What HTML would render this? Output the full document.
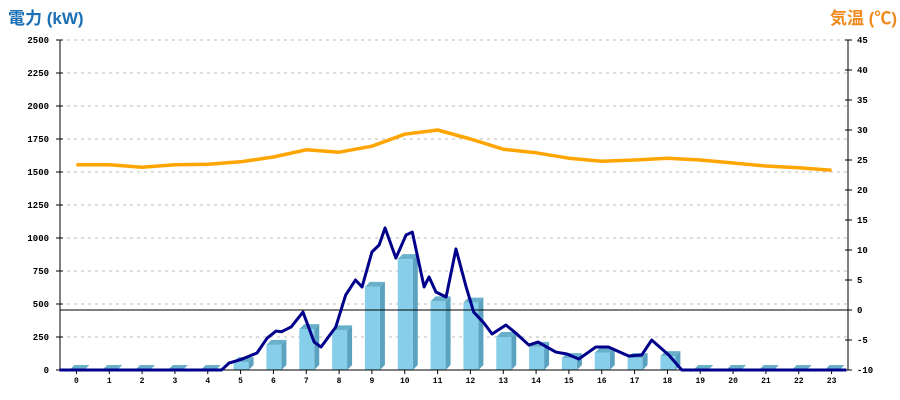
<!DOCTYPE html>
<html><head><meta charset="utf-8"><style>
body{margin:0;background:#fff;width:900px;height:400px;overflow:hidden}
svg{display:block}
</style></head><body>
<svg id="chart" width="900" height="400" xmlns="http://www.w3.org/2000/svg">
<text x="8" y="24" font-family="Liberation Sans, Noto Sans CJK JP, sans-serif" font-weight="bold" font-size="17" fill="#1a6fb5">電力 (kW)</text>
<text x="897" y="24" text-anchor="end" font-family="Liberation Sans, Noto Sans CJK JP, sans-serif" font-weight="bold" font-size="17" fill="#f08a1c">気温 (℃)</text>
</svg>
<script>
const categories=[0,1,2,3,4,5,6,7,8,9,10,11,12,13,14,15,16,17,18,19,20,21,22,23];
const hourlyPower=[0,0,0,0,0,60,190,310,300,630,840,520,510,250,175,90,130,90,105,0,0,0,0,0];
const temperature=[24.2,24.2,23.8,24.2,24.3,24.7,25.5,26.7,26.3,27.3,29.3,30,28.5,26.8,26.2,25.3,24.8,25,25.3,25,24.5,24,23.7,23.3];
const powerTimes=[-0.52,4.42,4.65,5.05,5.5,5.81,6.08,6.25,6.54,6.9,7.24,7.45,7.9,8.2,8.5,8.7,9.0,9.22,9.4,9.73,10.04,10.23,10.59,10.74,10.95,11.26,11.56,11.87,12.1,12.41,12.66,13.08,13.38,13.78,14.06,14.6,14.94,15.3,15.82,16.2,16.82,17.22,17.52,18.04,18.44,23.45];
const powerValues=[0,0,53,83,129,242,295,290,326,439,212,174,326,568,682,629,894,947,1076,848,1023,1045,629,705,591,553,917,629,439,356,273,341,280,189,212,136,121,83,174,174,106,114,227,114,0,0];
const leftTicks=[0,250,500,750,1000,1250,1500,1750,2000,2250,2500];
const rightTicks=[-10,-5,0,5,10,15,20,25,30,35,40,45];

const svg=document.getElementById('chart');
const NS='http://www.w3.org/2000/svg';
const X0=60,X1=848,Y0=370,Y1=40;
const bw=(X1-X0)/24;
const xh=h=>X0+bw*(h+0.5);
const yL=v=>Y0-(v/2500)*(Y0-Y1);
const yR=t=>Y0-((t+10)/55)*(Y0-Y1);
function mk(tag,attrs){const e=document.createElementNS(NS,tag);for(const k in attrs)e.setAttribute(k,attrs[k]);svg.appendChild(e);return e;}
const font='Liberation Mono, monospace';

leftTicks.forEach(v=>{
  const y=yL(v);
  if(v>0){const g=mk('line',{x1:X0,x2:X1,y1:y,y2:y,stroke:'#bbb','stroke-dasharray':'3,4'});
  
  }
  const t=mk('line',{x1:X0-4,x2:X0+3,y1:y,y2:y,stroke:'#000'});
  
  
  const l=mk('text',{x:X0-11,y:y+3,'text-anchor':'end','font-family':font,'font-size':9,'font-weight':'bold',fill:'#000'});
  l.textContent=v;
  
  
});
rightTicks.forEach(v=>{
  const y=yR(v);
  const t=mk('line',{x1:X1-3,x2:X1+4,y1:y,y2:y,stroke:'#000'});
  
  
  const l=mk('text',{x:X1+9,y:y+3,'font-family':font,'font-size':9,'font-weight':'bold',fill:'#000'});
  l.textContent=v;
  
  
});
categories.forEach((c,i)=>{
  const x=xh(i);
  const t=mk('line',{x1:x,x2:x,y1:Y0,y2:Y0+4,stroke:'#000'});
  
  
  const l=mk('text',{x:x,y:Y0+13,'text-anchor':'middle','font-family':font,'font-size':8,'font-weight':'bold',fill:'#000'});
  l.textContent=c;
  
  
});
// bars
hourlyPower.forEach((v,i)=>{
  const cx=xh(i),x=cx-7,w=15,d=5,top=yL(v);
  const g=document.createElementNS(NS,'g');svg.appendChild(g);
  
  
  const side=document.createElementNS(NS,'polygon');
  side.setAttribute('points',`${x+w},${Y0} ${x+w},${top} ${x+w+d},${top-d} ${x+w+d},${Y0-d}`);
  side.setAttribute('fill','#5aa2bf');g.appendChild(side);
  const tp=document.createElementNS(NS,'polygon');
  tp.setAttribute('points',`${x},${top} ${x+d},${top-d} ${x+w+d},${top-d} ${x+w},${top}`);
  tp.setAttribute('fill','#69b0ca');g.appendChild(tp);
  const fr=document.createElementNS(NS,'rect');
  fr.setAttribute('x',x);fr.setAttribute('y',top);fr.setAttribute('width',w);fr.setAttribute('height',Y0-top);
  fr.setAttribute('fill','#87ceea');g.appendChild(fr);
});
// axes
const zl=mk('line',{x1:X0,x2:X1,y1:yR(0),y2:yR(0),stroke:'#000'});


const ax=mk('path',{d:`M${X0},${Y1} V${Y0} H${X1} V${Y1}`,fill:'none',stroke:'#000'});


// temperature line
const tl=mk('polyline',{points:temperature.map((t,i)=>xh(i)+','+yR(t)).join(' '),fill:'none',stroke:'#ffa500','stroke-width':3.5,'stroke-linejoin':'round'});


// power line
const pl=mk('polyline',{points:powerTimes.map((h,i)=>xh(h)+','+yL(powerValues[i])).join(' '),fill:'none',stroke:'#00008b','stroke-width':3,'stroke-linejoin':'round'});


</script>
</body></html>
